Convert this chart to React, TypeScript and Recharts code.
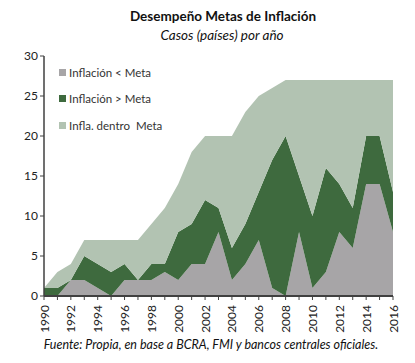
import React from "react";
import { AreaChart, Area, XAxis, YAxis, Legend } from "recharts";

const years = [1990, 1991, 1992, 1993, 1994, 1995, 1996, 1997, 1998, 1999, 2000, 2001, 2002, 2003, 2004, 2005, 2006, 2007, 2008, 2009, 2010, 2011, 2012, 2013, 2014, 2015, 2016];
// Inflación < Meta
const bajoMeta = [0, 0, 2, 2, 1, 0, 2, 2, 2, 3, 2, 4, 4, 8, 2, 4, 7, 1, 0, 8, 1, 3, 8, 6, 14, 14, 8];
// Inflación > Meta
const sobreMeta = [1, 1, 0, 3, 3, 3, 2, 0, 2, 1, 6, 5, 8, 3, 4, 5, 6, 16, 20, 7, 9, 13, 6, 5, 6, 6, 5];
// Infla. dentro Meta
const dentroMeta = [0, 2, 2, 2, 3, 4, 3, 5, 5, 7, 6, 9, 8, 9, 14, 14, 12, 9, 7, 12, 17, 11, 13, 16, 7, 7, 14];
const yTicks = [0, 5, 10, 15, 20, 25, 30];

const data = years.map((year, i) => ({
    year,
    bajo: bajoMeta[i],
    sobre: sobreMeta[i],
    dentro: dentroMeta[i],
}));

const font = "Lato, 'Open Sans', sans-serif";

const legendItems = [
    { label: "Inflación < Meta", color: "#a7a5a7" },
    { label: "Inflación > Meta", color: "#3e6a3e" },
    { label: "Infla. dentro  Meta", color: "#b2c3b2" },
];

const YearTick = (props: any) => {
    const { x, y, payload } = props;
    if (payload.value % 2 !== 0) return null;
    return (
        <text
            x={x}
            y={y + 3}
            transform={`rotate(-90, ${x}, ${y + 3})`}
            textAnchor="end"
            dominantBaseline="central"
            fontSize={12}
            fill="#222"
            fontFamily={font}
        >
            {payload.value}
        </text>
    );
};

const renderLegend = () => (
    <div style={{ fontFamily: font, fontSize: 11.5, color: "#333" }}>
        {legendItems.map((item) => (
            <div key={item.label} style={{ display: "flex", alignItems: "center", height: 26.5 }}>
                <span style={{ width: 7, height: 7, background: item.color, marginRight: 3, display: "inline-block" }} />
                <span style={{ whiteSpace: "pre" }}>{item.label}</span>
            </div>
        ))}
    </div>
);

export default function App() {
    return (
        <div style={{ position: "absolute", left: 0, top: 0, width: 415, height: 363, background: "#fff", fontFamily: font }}>
            <div style={{ position: "absolute", top: 8, left: 0, width: 446, textAlign: "center", fontWeight: "bold", fontSize: 13.5, color: "#111" }}>
                Desempeño Metas de Inflación
            </div>
            <div style={{ position: "absolute", top: 27, left: 0, width: 444, textAlign: "center", fontStyle: "italic", fontSize: 13.5, color: "#111" }}>
                Casos (países) por año
            </div>
            <AreaChart width={415} height={363} data={data} margin={{ top: 56, right: 22, bottom: 27, left: 0 }}>
                <XAxis
                    dataKey="year"
                    type="number"
                    domain={[1990, 2016]}
                    ticks={years}
                    interval={0}
                    tick={<YearTick />}
                    tickSize={4}
                    height={40}
                    axisLine={{ stroke: "#404040", strokeWidth: 2 }}
                    tickLine={{ stroke: "#404040" }}
                />
                <YAxis
                    domain={[0, 30]}
                    ticks={yTicks}
                    width={44}
                    tickSize={4}
                    tick={{ fontSize: 12, fill: "#222", fontFamily: font }}
                    axisLine={{ stroke: "#404040", strokeWidth: 1.5 }}
                    tickLine={{ stroke: "#404040" }}
                />
                <Legend
                    layout="vertical"
                    verticalAlign="middle"
                    align="center"
                    content={renderLegend}
                    wrapperStyle={{ left: 59, top: 59, width: 140 }}
                />
                <Area type="linear" dataKey="bajo" stackId="1" stroke="none" fill="#a7a5a7" fillOpacity={1} isAnimationActive={false} />
                <Area type="linear" dataKey="sobre" stackId="1" stroke="none" fill="#3e6a3e" fillOpacity={1} isAnimationActive={false} />
                <Area type="linear" dataKey="dentro" stackId="1" stroke="none" fill="#b2c3b2" fillOpacity={1} isAnimationActive={false} />
            </AreaChart>
            <div style={{ position: "absolute", top: 337, left: 0, width: 422, textAlign: "center", fontStyle: "italic", fontSize: 12.5, color: "#111" }}>
                Fuente: Propia, en base a BCRA, FMI y bancos centrales oficiales.
            </div>
        </div>
    );
}
